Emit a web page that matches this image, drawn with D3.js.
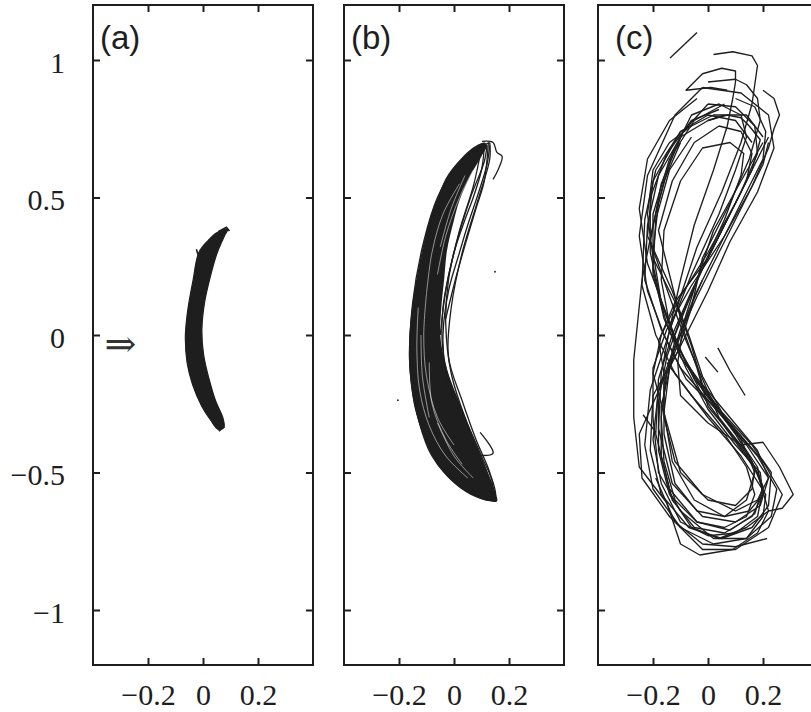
<!DOCTYPE html>
<html>
<head>
<meta charset="utf-8">
<script src="https://cdn.jsdelivr.net/npm/d3@7"></script>
<style>
  body { margin: 0; background: #fff; }
  svg { display: block; }
</style>
</head>
<body>
<div id="chart"></div>
<script>
// axis settings
var xDomain = [-0.4, 0.4];
var yDomain = [-1.2, 1.2];
var xTicks = [-0.2, 0, 0.2];
var xTickLabels = ["\u22120.2", "0", "0.2"];
var yTicks = [-1, -0.5, 0, 0.5, 1];
var yTickLabels = ["\u22121", "\u22120.5", "0", "0.5", "1"];
var panelNames = ["(a)", "(b)", "(c)"];

// panel (a): thin crescent, outline edges
var aEdgeLeft = [[0.09,0.385],[0.05,0.372],[0.02,0.345],[-0.015,0.3],[-0.036,0.2],[-0.054,0.1],[-0.064,0.0],
  [-0.058,-0.1],[-0.038,-0.18],[-0.004,-0.26],[0.028,-0.31],[0.055,-0.342]];
var aEdgeRight = [[0.076,-0.335],[0.072,-0.3],[0.046,-0.24],[0.022,-0.16],[0.002,-0.07],[-0.004,0.02],
  [0.006,0.12],[0.026,0.21],[0.052,0.3],[0.078,0.36]];
var aFringe = [
  [[0.055,0.376],[0.085,0.392],[0.096,0.378]],
  [[-0.018,0.292],[-0.024,0.312]],
  [[0.048,-0.33],[0.06,-0.348],[0.078,-0.334]]
];

// panel (b): banana shaped band, core outline and traced loops
var bLeft = [[0.11,0.70],[0.06,0.675],[0.015,0.63],[-0.03,0.57],[-0.062,0.49],[-0.09,0.41],[-0.113,0.31],
  [-0.135,0.2],[-0.153,0.09],[-0.162,0.0],[-0.164,-0.09],[-0.157,-0.18],[-0.142,-0.27],[-0.11,-0.37],
  [-0.07,-0.456],[-0.01,-0.53],[0.058,-0.58],[0.11,-0.6],[0.156,-0.605]];
var bRight = [[0.15,-0.57],[0.105,-0.456],[0.07,-0.37],[0.03,-0.27],[-0.01,-0.17],[-0.035,-0.09],
  [-0.05,0.0],[-0.046,0.1],[-0.036,0.2],[-0.025,0.31],[-0.002,0.41],[0.02,0.49],[0.06,0.58],[0.1,0.65],[0.12,0.69]];
var bLoops = [
  [[0.12,0.69],[0.06,0.66],[0.0,0.6],[-0.06,0.5],[-0.11,0.34],[-0.15,0.12],[-0.16,-0.08],[-0.14,-0.26],[-0.08,-0.44],
   [0.02,-0.55],[0.1,-0.59],[0.15,-0.6],[0.12,-0.5],[0.06,-0.36],[0.0,-0.22],[-0.04,-0.06],[-0.04,0.1],[0.0,0.3],[0.06,0.5],[0.11,0.63],[0.12,0.69]],
  [[0.13,0.70],[0.07,0.67],[0.01,0.6],[-0.05,0.5],[-0.1,0.34],[-0.14,0.12],[-0.15,-0.08],[-0.13,-0.26],[-0.07,-0.44],
   [0.03,-0.55],[0.12,-0.6],[0.15,-0.59],[0.13,-0.5],[0.08,-0.38],[0.03,-0.24],[-0.02,-0.08],[-0.01,0.1],[0.03,0.3],[0.09,0.5],[0.13,0.64],[0.13,0.70]],
  [[0.1,0.68],[0.03,0.64],[-0.03,0.56],[-0.08,0.44],[-0.12,0.28],[-0.155,0.06],[-0.16,-0.12],[-0.13,-0.3],[-0.06,-0.46],
   [0.04,-0.56],[0.13,-0.59],[0.14,-0.54],[0.1,-0.44],[0.04,-0.3],[-0.01,-0.14],[-0.03,0.04],[-0.02,0.2],[0.02,0.38],[0.07,0.54],[0.1,0.68]],
  [[0.13,0.69],[0.12,0.62],[0.09,0.52],[0.05,0.4],[0.02,0.3],[-0.02,0.16],[-0.04,0.0],[-0.03,-0.14],[0.01,-0.28],[0.07,-0.42],[0.12,-0.52],[0.155,-0.6]],
  [[0.11,0.68],[0.1,0.6],[0.07,0.5],[0.04,0.42],[0.0,0.3],[-0.03,0.16],[-0.05,0.0]],
  [[0.125,0.7],[0.11,0.56],[0.08,0.46],[0.05,0.36],[0.01,0.22],[-0.03,0.06]],
  [[0.102,0.704],[0.142,0.7],[0.156,0.664],[0.175,0.65],[0.16,0.60],[0.142,0.566]],
  [[0.095,-0.354],[0.142,-0.43],[0.095,-0.438]]
];
var bStreaks = [
  [[0.07,0.6],[0.02,0.5],[-0.03,0.36],[-0.06,0.22]],
  [[0.04,0.58],[-0.01,0.46],[-0.05,0.32]],
  [[0.02,0.55],[-0.04,0.44],[-0.08,0.3],[-0.1,0.15]],
  [[-0.09,-0.1],[-0.08,-0.25],[-0.03,-0.38],[0.03,-0.47]],
  [[-0.12,0.0],[-0.115,-0.15],[-0.09,-0.3]],
  [[-0.06,-0.32],[0.0,-0.44],[0.07,-0.52]],
  [[-0.13,0.1],[-0.135,-0.05],[-0.125,-0.2],[-0.09,-0.33],[-0.03,-0.44],[0.05,-0.52]],
  [[-0.1,0.15],[-0.11,0.0],[-0.1,-0.15],[-0.06,-0.3],[0.0,-0.4]]
];
var bDots = [[0.149,0.23],[-0.204,-0.237]];

// panel (c): figure-eight trajectories
var cLoops = [
  [[-0.02,0.90],[0.12,0.88],[0.22,0.80],[0.24,0.68],[0.18,0.52],[0.08,0.34],[0.0,0.16],[-0.08,0.0],[-0.16,-0.16],[-0.25,-0.36],
   [-0.24,-0.52],[-0.14,-0.66],[-0.02,-0.78],[0.1,-0.78],[0.22,-0.7],[0.27,-0.58],[0.2,-0.46],[0.08,-0.32],[-0.08,-0.16],[-0.16,0.0],
   [-0.22,0.16],[-0.25,0.36],[-0.22,0.58],[-0.12,0.8],[-0.02,0.90]],
  [[0.0,0.84],[0.1,0.83],[0.17,0.76],[0.18,0.66],[0.12,0.52],[0.03,0.34],[-0.06,0.16],[-0.13,0.0],[-0.18,-0.16],[-0.19,-0.36],
   [-0.14,-0.56],[-0.04,-0.68],[0.08,-0.71],[0.17,-0.65],[0.2,-0.55],[0.15,-0.44],[0.04,-0.3],[-0.02,-0.16],[-0.08,-0.02],
   [-0.14,0.14],[-0.21,0.34],[-0.17,0.55],[-0.09,0.74],[0.0,0.84]],
  [[0.04,0.76],[0.12,0.74],[0.16,0.66],[0.14,0.56],[0.08,0.44],[0.0,0.28],[-0.12,0.12],[-0.17,0.0],[-0.2,-0.14],[-0.15,-0.32],
   [-0.1,-0.5],[0.0,-0.6],[0.1,-0.62],[0.16,-0.56],[0.17,-0.48],[0.1,-0.38],[0.0,-0.26],[-0.04,-0.12],[-0.09,0.02],[-0.13,0.18],
   [-0.18,0.38],[-0.13,0.56],[-0.05,0.7],[0.04,0.76]],
  [[0.07,0.89],[0.01,0.9],[-0.08,0.89],[-0.02,0.95],[0.05,0.97],[0.1,0.96],[0.1,0.92],[0.09,0.86],[0.07,0.76],[0.02,0.6],
   [-0.05,0.4],[-0.1,0.2],[-0.14,0.02],[-0.17,-0.14],[-0.18,-0.34],[-0.13,-0.54],[-0.02,-0.66],[0.1,-0.68],[0.19,-0.62],
   [0.22,-0.52],[0.14,-0.4],[0.02,-0.26],[-0.1,-0.12],[-0.17,0.02],[-0.23,0.2],[-0.22,0.4],[-0.18,0.58],[-0.1,0.72],[0.0,0.78],[0.06,0.8]],
  [[0.2,0.89],[0.24,0.86],[0.26,0.8],[0.24,0.75],[0.22,0.68],[0.16,0.54],[0.06,0.36],[-0.06,0.18],[-0.15,0.02],[-0.2,-0.12],
   [-0.2,-0.3],[-0.18,-0.5],[-0.1,-0.64],[0.02,-0.74],[0.14,-0.74],[0.23,-0.66],[0.25,-0.56],[0.18,-0.44],[0.06,-0.3],
   [-0.02,-0.15],[-0.07,0.0],[-0.13,0.16],[-0.22,0.36],[-0.2,0.56],[-0.1,0.74],[0.02,0.8],[0.14,0.8],[0.2,0.72]],
  [[0.02,1.02],[0.09,1.03],[0.16,1.015],[0.18,0.98],[0.17,0.91],[0.16,0.84],[0.12,0.7],[0.05,0.52],[-0.04,0.32],[-0.1,0.14],
   [-0.15,-0.02],[-0.21,-0.2],[-0.23,-0.4],[-0.2,-0.56],[-0.1,-0.7],[0.02,-0.76],[0.14,-0.74],[0.2,-0.66],[0.21,-0.58],
   [0.12,-0.44],[0.0,-0.3],[-0.12,-0.14],[-0.19,0.0],[-0.24,0.18],[-0.23,0.42],[-0.19,0.6],[-0.1,0.74],[0.0,0.8],[0.1,0.78],[0.16,0.7]],
  [[0.0,0.92],[0.1,0.93],[0.14,0.91],[0.18,0.86],[0.19,0.78],[0.15,0.64],[0.08,0.48],[-0.02,0.28],[-0.06,0.1],[-0.11,-0.06],
   [-0.2,-0.22],[-0.21,-0.42],[-0.17,-0.58],[-0.07,-0.7],[0.05,-0.74],[0.16,-0.7],[0.22,-0.62],[0.23,-0.5],[0.16,-0.4],
   [0.05,-0.28],[-0.05,-0.16],[-0.12,-0.02],[-0.17,0.12],[-0.21,0.3],[-0.21,0.5],[-0.15,0.66],[-0.06,0.78],[0.04,0.82]],
  [[0.0,0.78],[0.07,0.8],[0.12,0.79],[0.15,0.76],[0.19,0.71],[0.16,0.6],[0.1,0.48],[0.0,0.3],[-0.1,0.14],[-0.18,-0.02],
   [-0.16,-0.14],[-0.16,-0.3],[-0.12,-0.46],[-0.02,-0.58],[0.1,-0.64],[0.18,-0.6],[0.22,-0.52],[0.18,-0.42],[0.08,-0.3],
   [-0.02,-0.18],[-0.06,-0.04],[-0.11,0.1],[-0.2,0.28],[-0.22,0.44],[-0.2,0.6],[-0.14,0.7],[-0.06,0.76]],
  [[-0.1,0.7],[-0.16,0.56],[-0.2,0.4],[-0.24,0.2],[-0.27,-0.09],[-0.27,-0.3],[-0.25,-0.48],[-0.15,-0.61],[-0.1,-0.76],
   [-0.03,-0.8],[0.09,-0.78],[0.18,-0.72],[0.22,-0.64],[0.18,-0.5],[0.08,-0.36],[-0.02,-0.22],[-0.1,-0.06],[-0.16,0.1],
   [-0.22,0.26],[-0.25,0.46],[-0.22,0.64],[-0.14,0.78],[-0.04,0.86]],
  [[0.2,0.7],[0.12,0.56],[0.02,0.38],[-0.04,0.2],[-0.09,0.04],[-0.11,-0.1],[-0.1,-0.22],[0.0,-0.32],[0.12,-0.4],[0.2,-0.39],
   [0.26,-0.48],[0.31,-0.58],[0.27,-0.63],[0.22,-0.64],[0.14,-0.7],[0.04,-0.74],[-0.06,-0.7],[-0.14,-0.58],[-0.18,-0.42],
   [-0.18,-0.24],[-0.15,-0.08],[-0.1,0.06],[-0.02,0.24],[0.08,0.44],[0.16,0.6],[0.22,0.72]],
  [[-0.12,0.0],[-0.04,0.2],[0.06,0.42],[0.12,0.58],[0.13,0.66],[0.08,0.7],[-0.02,0.68],[-0.1,0.56],[-0.16,0.38],[-0.17,0.2],
   [-0.14,0.04],[-0.08,-0.1],[0.02,-0.24],[0.12,-0.38],[0.17,-0.5],[0.14,-0.6],[0.06,-0.66],[-0.04,-0.64],[-0.12,-0.54],
   [-0.16,-0.36],[-0.16,-0.18],[-0.12,-0.02]],
  [[-0.14,0.02],[-0.06,0.22],[0.04,0.44],[0.1,0.6],[0.14,0.72],[0.12,0.8],[0.04,0.84],[-0.06,0.8],[-0.13,0.66],[-0.18,0.48],
   [-0.2,0.3],[-0.17,0.12],[-0.11,-0.04],[-0.02,-0.2],[0.1,-0.36],[0.18,-0.48],[0.2,-0.58],[0.16,-0.66],[0.06,-0.72],
   [-0.05,-0.7],[-0.13,-0.6],[-0.17,-0.44],[-0.17,-0.26],[-0.13,-0.08]],
  [[0.1,0.86],[0.17,0.83],[0.21,0.74],[0.2,0.64],[0.13,0.5],[0.04,0.32],[-0.05,0.14],[-0.1,0.0],[-0.14,-0.12],[-0.16,-0.28],
   [-0.13,-0.46],[-0.05,-0.6],[0.06,-0.66],[0.15,-0.64],[0.2,-0.58],[0.19,-0.5],[0.1,-0.4],[0.0,-0.27],[-0.08,-0.12],
   [-0.15,0.04],[-0.2,0.22],[-0.2,0.44],[-0.14,0.64],[-0.05,0.78],[0.06,0.84]],
  [[-0.06,0.72],[-0.14,0.6],[-0.19,0.42],[-0.2,0.24],[-0.16,0.06],[-0.1,-0.08],[0.0,-0.22],[0.1,-0.36],[0.16,-0.46],
   [0.2,-0.56],[0.18,-0.66],[0.1,-0.72],[0.0,-0.73],[-0.1,-0.68],[-0.17,-0.54],[-0.2,-0.38],[-0.18,-0.2],[-0.12,-0.04],
   [-0.04,0.14],[0.06,0.34],[0.14,0.5],[0.2,0.62],[0.22,0.7]],
  [[-0.15,-0.1],[-0.06,-0.22],[0.06,-0.36],[0.14,-0.48],[0.17,-0.58],[0.14,-0.66],[0.06,-0.7],[-0.04,-0.68],[-0.12,-0.6],
   [-0.16,-0.46],[-0.17,-0.3],[-0.15,-0.14],[-0.1,0.02],[-0.02,0.2]]
];
var cShort = [
  [[-0.138,1.007],[-0.04,1.10]],
  [[0.036,-0.047],[0.08,-0.13],[0.135,-0.22]],
  [[-0.01,-0.08],[0.036,-0.135]],
  [[-0.236,-0.29],[-0.19,-0.354]],
  [[0.215,-0.74],[0.1,-0.77],[-0.02,-0.76],[-0.12,-0.68],[-0.19,-0.52]]
];

// layout
var W = 811, H = 712;
var panelLeft = [93, 344, 598];
var panelTop = 5, panelW = 220, panelH = 660;
var labelOffset = [7, 7, 17];
var ink = "#1e1e1e";

var svg = d3.select("#chart").append("svg")
    .attr("width", W)
    .attr("height", H);

var x = d3.scaleLinear().domain(xDomain).range([0, panelW]);
var y = d3.scaleLinear().domain(yDomain).range([panelH, 0]);

var line = d3.line().x(function(d){ return x(d[0]); }).y(function(d){ return y(d[1]); });
var smooth = d3.line().x(function(d){ return x(d[0]); }).y(function(d){ return y(d[1]); })
    .curve(d3.curveCatmullRom);
var closedSmooth = d3.line().x(function(d){ return x(d[0]); }).y(function(d){ return y(d[1]); })
    .curve(d3.curveCatmullRomClosed);

panelNames.forEach(function(name, i){
    var g = svg.append("g")
        .attr("transform", "translate(" + panelLeft[i] + "," + panelTop + ")");

    g.append("clipPath").attr("id", "clip" + i)
        .append("rect").attr("width", panelW).attr("height", panelH);

    var plot = g.append("g").attr("clip-path", "url(#clip" + i + ")");

    if (i === 0) {
        plot.append("path")
            .attr("d", closedSmooth(aEdgeLeft.concat(aEdgeRight)))
            .attr("fill", ink).attr("stroke", ink).attr("stroke-width", 1.2);
        plot.selectAll("path.fringe").data(aFringe).enter().append("path")
            .attr("class", "fringe")
            .attr("d", line).attr("fill", "none").attr("stroke", ink).attr("stroke-width", 1.6);
        // inflow arrow
        g.append("text")
            .attr("x", x(-0.3)).attr("y", y(-0.03))
            .attr("dy", "0.35em")
            .attr("text-anchor", "middle")
            .attr("font-family", "DejaVu Serif")
            .attr("font-size", "38px")
            .attr("fill", "#333")
            .text("\u21D2");
    }

    if (i === 1) {
        plot.append("path")
            .attr("d", closedSmooth(bLeft.concat(bRight)))
            .attr("fill", ink).attr("stroke", "none");
        plot.selectAll("path.loop").data(bLoops).enter().append("path")
            .attr("class", "loop")
            .attr("d", smooth).attr("fill", "none").attr("stroke", ink).attr("stroke-width", 1.3);
        plot.selectAll("path.streak").data(bStreaks).enter().append("path")
            .attr("class", "streak")
            .attr("d", smooth).attr("fill", "none").attr("stroke", "#fff").attr("stroke-width", 0.7)
            .attr("opacity", 0.75);
        plot.selectAll("circle").data(bDots).enter().append("circle")
            .attr("cx", function(d){ return x(d[0]); })
            .attr("cy", function(d){ return y(d[1]); })
            .attr("r", 0.9).attr("fill", ink);
    }

    if (i === 2) {
        plot.selectAll("path.loop").data(cLoops.concat(cShort)).enter().append("path")
            .attr("class", "loop")
            .attr("d", line).attr("fill", "none").attr("stroke", ink)
            .attr("stroke-width", 1.35).attr("stroke-linejoin", "round");
    }

    // axes with inward ticks on all four sides
    var xb = g.append("g").attr("transform", "translate(0," + panelH + ")")
        .call(d3.axisBottom(x).tickValues(xTicks)
            .tickFormat(function(d, k){ return xTickLabels[k]; })
            .tickSizeInner(-7).tickSizeOuter(0).tickPadding(19));
    var xt = g.append("g")
        .call(d3.axisTop(x).tickValues(xTicks).tickFormat("").tickSizeInner(-7).tickSizeOuter(0));
    var yl = g.append("g")
        .call(d3.axisLeft(y).tickValues(yTicks)
            .tickFormat(function(d, k){ return i === 0 ? yTickLabels[k] : ""; })
            .tickSizeInner(-7).tickSizeOuter(0).tickPadding(28));
    var yr = g.append("g").attr("transform", "translate(" + panelW + ",0)")
        .call(d3.axisRight(y).tickValues(yTicks).tickFormat("").tickSizeInner(-7).tickSizeOuter(0));

    [xb, xt, yl, yr].forEach(function(a){
        a.select(".domain").remove();
        a.selectAll("line").attr("stroke", ink).attr("stroke-width", 2);
        a.selectAll("text")
            .attr("font-family", "Liberation Serif")
            .attr("font-size", "30px")
            .attr("fill", ink);
    });
    yl.selectAll("text").attr("dy", "0.4em");

    g.append("rect")
        .attr("width", panelW).attr("height", panelH)
        .attr("fill", "none").attr("stroke", ink).attr("stroke-width", 2);

    g.append("text")
        .attr("x", labelOffset[i]).attr("y", 44)
        .attr("font-family", "Liberation Sans")
        .attr("font-size", "33px")
        .attr("fill", ink)
        .text(name);
});
</script>
</body>
</html>
